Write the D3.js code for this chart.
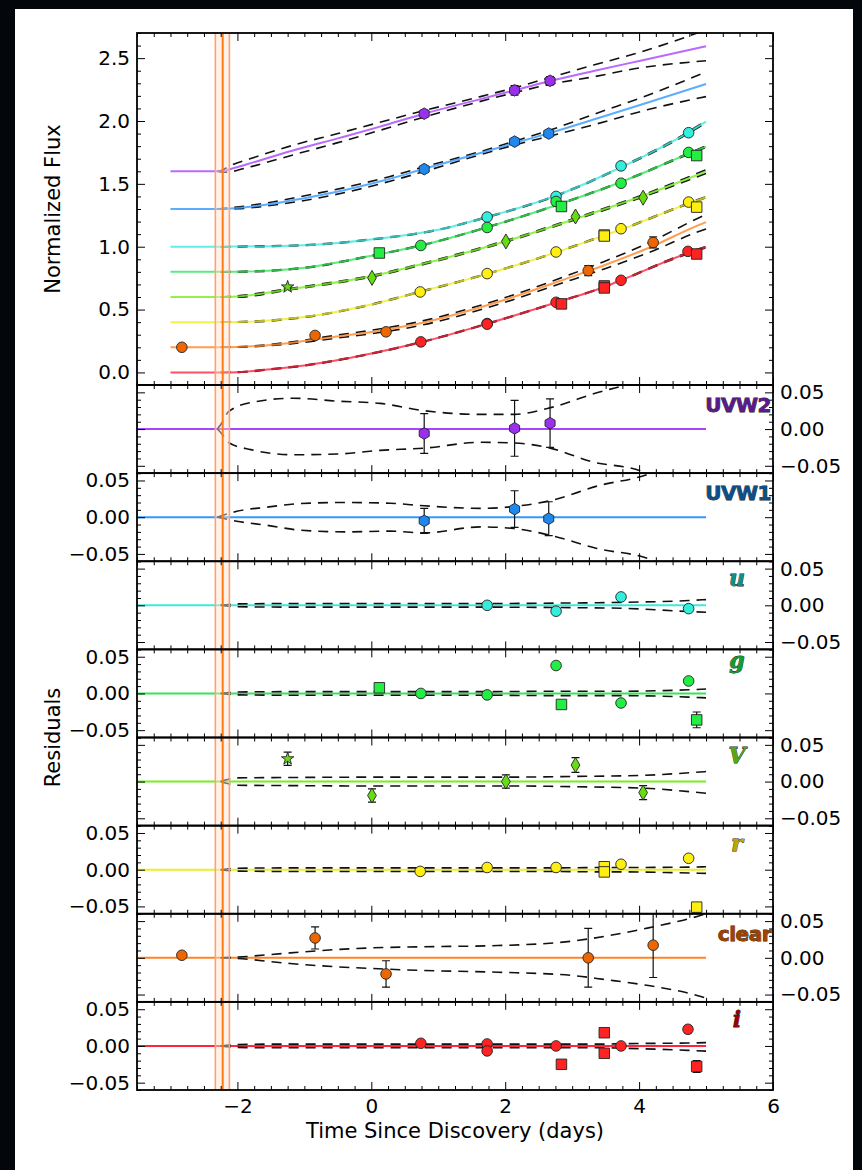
<!DOCTYPE html>
<html>
<head>
<meta charset="utf-8">
<script src="https://cdn.jsdelivr.net/npm/d3@7"></script>
<style>
  html, body { margin: 0; padding: 0; background: #03060a; }
  svg { display: block; }
</style>
</head>
<body>
<svg id="chart" width="862" height="1170"></svg>
<script>
// ---- bands (top to bottom) ----
const bandNames   = ["UVW2", "UVW1", "u", "g", "V", "r", "clear", "i"];
const lineColors  = ["#a744ff", "#3399ff", "#3fe8dc", "#33e655", "#77ee22", "#eeee22", "#ff8426", "#ff2440"];
const markColors  = ["#9a30ee", "#1f88ee", "#33eedd", "#22ee44", "#66dd11", "#ffee11", "#ee6600", "#ff2222"];
const labelColors = ["#5a1a8c", "#0b4f8a", "#0f8f86", "#129a33", "#55a811", "#b8a800", "#9a4400", "#990000"];
const labelScript = [false, false, true, true, true, true, false, true];
const tickSide    = ["right", "left", "right", "left", "right", "left", "right", "left"];

// explosion epoch and its uncertainty (days)
const explosionTimes = [-2.33, -2.22, -2.12];
const modelStart = -3.0;
const residStart = -3.5;

// model rows: [time, normalized flux, envelope low, envelope high]
const modelUVW2 = [
  [-2.30, 1.600, 0.000, 0.000], [-2.22, 1.600, -0.008, 0.010], [-2.14, 1.612, -0.018, 0.023],
  [-1.80, 1.665, -0.028, 0.036], [-1.17, 1.765, -0.035, 0.042], [-0.50, 1.862, -0.034, 0.038],
  [0.13, 1.955, -0.029, 0.035], [0.79, 2.058, -0.026, 0.025], [1.63, 2.174, -0.018, 0.020],
  [2.13, 2.243, -0.019, 0.020], [2.63, 2.312, -0.025, 0.028], [3.32, 2.397, -0.045, 0.048],
  [4.02, 2.480, -0.057, 0.068], [5.00, 2.595, -0.116, 0.130]
];
const modelUVW1 = [
  [-2.30, 1.300, 0.000, 0.000], [-2.01, 1.307, -0.0055, 0.008], [-1.56, 1.335, -0.011, 0.0136],
  [-1.06, 1.380, -0.0177, 0.0186], [-0.36, 1.455, -0.020, 0.020], [0.28, 1.540, -0.019, 0.019],
  [0.79, 1.620, -0.0214, 0.0155], [1.63, 1.745, -0.0132, 0.012], [2.13, 1.823, -0.0154, 0.0146],
  [2.73, 1.915, -0.026, 0.0237], [3.37, 2.020, -0.0427, 0.0423], [4.12, 2.145, -0.056, 0.058],
  [5.00, 2.294, -0.100, 0.097]
];
const modelU = [
  [-2.25, 1.000, 0, 0], [-2.00, 1.001, -0.002, 0.002], [-1.00, 1.012, -0.0025, 0.0025],
  [0.00, 1.058, -0.0025, 0.0025], [1.00, 1.135, -0.0025, 0.0025], [1.73, 1.236, -0.0025, 0.0025],
  [2.76, 1.406, -0.003, 0.003], [3.73, 1.632, -0.004, 0.004], [4.74, 1.910, -0.0085, 0.0065],
  [5.00, 1.995, -0.0095, 0.0078]
];
const modelG = [
  [-2.25, 0.800, 0, 0], [-2.00, 0.801, -0.002, 0.002], [-1.00, 0.832, -0.0025, 0.0025],
  [0.00, 0.928, -0.0025, 0.0025], [0.74, 1.010, -0.0025, 0.0025], [1.73, 1.155, -0.0025, 0.0025],
  [2.76, 1.330, -0.003, 0.003], [3.73, 1.515, -0.003, 0.003], [4.74, 1.740, -0.005, 0.005],
  [5.00, 1.796, -0.006, 0.006]
];
const modelV = [
  [-2.25, 0.600, 0, 0], [-2.00, 0.604, -0.005, 0.005], [-1.25, 0.660, -0.0055, 0.0055],
  [0.00, 0.765, -0.006, 0.006], [1.00, 0.895, -0.006, 0.006], [2.00, 1.042, -0.006, 0.006],
  [3.05, 1.222, -0.007, 0.007], [4.06, 1.405, -0.009, 0.0085], [5.00, 1.598, -0.016, 0.0136]
];
const modelR = [
  [-2.25, 0.400, 0, 0], [-2.00, 0.401, -0.002, 0.002], [-1.00, 0.440, -0.0025, 0.0025],
  [0.00, 0.540, -0.0025, 0.0025], [0.73, 0.642, -0.0025, 0.0025], [1.73, 0.784, -0.0025, 0.0025],
  [2.76, 0.955, -0.0025, 0.0025], [3.48, 1.090, -0.003, 0.003], [3.73, 1.137, -0.003, 0.003],
  [4.74, 1.345, -0.0045, 0.0035], [5.00, 1.394, -0.005, 0.004]
];
const modelClear = [
  [-2.25, 0.200, 0, 0], [-2.00, 0.202, -0.001, 0.001], [-1.21, 0.235, -0.0078, 0.0067],
  [-0.56, 0.282, -0.012, 0.011], [0.00, 0.322, -0.0145, 0.0135], [0.68, 0.385, -0.017, 0.0149],
  [1.89, 0.560, -0.0196, 0.0167], [2.99, 0.760, -0.024, 0.0226], [3.49, 0.855, -0.0296, 0.0293],
  [4.14, 0.990, -0.0378, 0.0408], [4.88, 1.170, -0.0516, 0.0567], [5.00, 1.196, -0.055, 0.060]
];
const modelI = [
  [-2.25, 0.000, 0, 0], [-2.00, 0.002, -0.002, 0.002], [-1.50, 0.025, -0.0025, 0.0025],
  [-1.00, 0.055, -0.0025, 0.0025], [0.00, 0.150, -0.0025, 0.0025], [0.74, 0.240, -0.0025, 0.0025],
  [1.73, 0.387, -0.0025, 0.0025], [2.76, 0.556, -0.0025, 0.0025], [3.48, 0.680, -0.0025, 0.0025],
  [3.73, 0.733, -0.003, 0.003], [4.73, 0.950, -0.006, 0.004], [5.00, 0.998, -0.007, 0.0045]
];

// observations: [time, normalized flux, residual, error, marker]
const obsUVW2 = [[0.79, 2.058, -0.006, 0.027, "h"], [2.14, 2.244, 0.001, 0.038, "h"], [2.67, 2.320, 0.008, 0.033, "h"]];
const obsUVW1 = [[0.79, 1.617, -0.005, 0.017, "h"], [2.14, 1.836, 0.011, 0.025, "h"], [2.65, 1.900, -0.002, 0.023, "h"]];
const obsU = [[1.73, 1.236, 0.000, 0.002, "o"], [2.76, 1.400, -0.008, 0.002, "o"], [3.73, 1.643, 0.0114, 0.002, "o"], [4.74, 1.907, -0.0045, 0.002, "o"]];
const obsG = [
  [0.12, 0.950, 0.0077, 0.002, "s"], [0.74, 1.010, 0.000, 0.002, "o"], [1.73, 1.153, -0.002, 0.002, "o"],
  [2.76, 1.360, 0.038, 0.003, "o"], [2.84, 1.320, -0.015, 0.003, "s"], [3.73, 1.505, -0.013, 0.003, "o"],
  [4.74, 1.750, 0.017, 0.003, "o"], [4.86, 1.725, -0.036, 0.0107, "s"]
];
const obsV = [
  [-1.25, 0.680, 0.031, 0.009, "*"], [0.01, 0.752, -0.019, 0.009, "d"], [2.01, 1.042, 0.000, 0.009, "d"],
  [3.05, 1.240, 0.0225, 0.010, "d"], [4.06, 1.390, -0.015, 0.0095, "d"]
];
const obsR = [
  [0.73, 0.640, -0.0023, 0.002, "o"], [1.73, 0.786, 0.003, 0.002, "o"], [2.76, 0.958, 0.003, 0.002, "o"],
  [3.48, 1.093, 0.004, 0.002, "s"], [3.48, 1.085, -0.003, 0.002, "s"], [3.73, 1.143, 0.0074, 0.002, "o"],
  [4.74, 1.355, 0.0155, 0.002, "o"], [4.86, 1.315, -0.051, 0.004, "s"]
];
const obsClear = [
  [-2.83, 0.200, 0.0035, 0.002, "o"], [-0.84, 0.294, 0.027, 0.015, "o"], [0.22, 0.323, -0.022, 0.018, "o"],
  [3.24, 0.810, 0.000, 0.040, "o"], [4.21, 1.034, 0.0172, 0.044, "o"]
];
const obsI = [
  [0.74, 0.243, 0.0036, 0.002, "o"], [1.73, 0.389, 0.0027, 0.002, "o"], [1.73, 0.384, -0.0068, 0.002, "o"],
  [2.76, 0.558, 0.000, 0.002, "o"], [2.84, 0.545, -0.025, 0.002, "s"], [3.48, 0.688, 0.018, 0.005, "s"],
  [3.48, 0.672, -0.010, 0.004, "s"], [3.73, 0.733, 0.000, 0.002, "o"], [4.73, 0.963, 0.0227, 0.005, "o"],
  [4.86, 0.942, -0.028, 0.008, "s"]
];

const models = [modelUVW2, modelUVW1, modelU, modelG, modelV, modelR, modelClear, modelI];
const observations = [obsUVW2, obsUVW1, obsU, obsG, obsV, obsR, obsClear, obsI];

// ---- axes ticks ----
const xMajor = [-2, 0, 2, 4, 6];
const mainYMajor = [0.0, 0.5, 1.0, 1.5, 2.0, 2.5];
const residYMajor = [-0.05, 0.00, 0.05];
const xMinor = d3.range(-3.5, 6.001, 0.25).filter(v => !xMajor.some(m => Math.abs(m - v) < 1e-6));
const mainYMinor = d3.range(-0.1, 2.701, 0.1).filter(v => !mainYMajor.some(m => Math.abs(m - v) < 1e-6));
const residYMinor = d3.range(-0.06, 0.0601, 0.01).filter(v => !residYMajor.some(m => Math.abs(m - v) < 1e-6));

// ---- layout ----
const W = 862, H = 1170;
const plotL = 137, plotR = 773, mainTop = 33, mainBottom = 385, residBottom = 1090;
const panelH = (residBottom - mainBottom) / bandNames.length;
const FONT = "DejaVu Sans";
const DASH = "10,7";

const svg = d3.select("#chart");
svg.append("rect").attr("width", W).attr("height", H).attr("fill", "#03060a");
svg.append("rect").attr("x", 15).attr("y", 9).attr("width", 838).attr("height", H - 9).attr("fill", "#ffffff");

const x = d3.scaleLinear().domain([-3.5, 6]).range([plotL, plotR]);
const yMain = d3.scaleLinear().domain([-0.1, 2.7]).range([mainBottom, mainTop]);
const residScales = bandNames.map((_, i) => {
  const top = mainBottom + i * panelH;
  return d3.scaleLinear().domain([-0.06, 0.06]).range([top + panelH, top]);
});

const defs = svg.append("defs");
function clipFor(id, top, bottom) {
  defs.append("clipPath").attr("id", id).append("rect")
    .attr("x", plotL).attr("y", top).attr("width", plotR - plotL).attr("height", bottom - top);
  return `url(#${id})`;
}

// marker glyphs centred on the origin
function markerPath(shape) {
  if (shape === "o") return d3.symbol(d3.symbolCircle, Math.PI * 5.3 * 5.3)();
  if (shape === "s") return d3.symbol(d3.symbolSquare, 10.5 * 10.5)();
  if (shape === "*") return d3.symbol(d3.symbolStar, 48)();
  if (shape === "d") {
    const p = d3.path();
    p.moveTo(0, -7.5); p.lineTo(4.4, 0); p.lineTo(0, 7.5); p.lineTo(-4.4, 0); p.closePath();
    return p.toString();
  }
  // hexagon with a vertex on top
  const p = d3.path(), r = 5.8;
  d3.range(6).forEach(k => {
    const a = -Math.PI / 2 + k * Math.PI / 3;
    if (k === 0) p.moveTo(r * Math.cos(a), r * Math.sin(a)); else p.lineTo(r * Math.cos(a), r * Math.sin(a));
  });
  p.closePath();
  return p.toString();
}

function drawErrorBars(g, data, y, valueIdx) {
  const eb = g.append("g").attr("stroke", "#111").attr("stroke-width", 1.2).attr("fill", "none");
  data.forEach(d => {
    const cx = x(d[0]), y0 = y(d[valueIdx] - d[3]), y1 = y(d[valueIdx] + d[3]);
    eb.append("line").attr("x1", cx).attr("x2", cx).attr("y1", y0).attr("y2", y1);
    eb.append("line").attr("x1", cx - 4).attr("x2", cx + 4).attr("y1", y0).attr("y2", y0);
    eb.append("line").attr("x1", cx - 4).attr("x2", cx + 4).attr("y1", y1).attr("y2", y1);
  });
}

function drawMarkers(g, data, y, valueIdx, color) {
  g.append("g").selectAll("path").data(data).join("path")
    .attr("d", d => markerPath(d[4]))
    .attr("transform", d => `translate(${x(d[0])},${y(d[valueIdx])})`)
    .attr("fill", color).attr("stroke", "#222").attr("stroke-width", 0.9);
}

const smooth = d3.curveMonotoneX;

// ---- main light-curve panel ----
const mainG = svg.append("g").attr("clip-path", clipFor("clip-main", mainTop, mainBottom));
bandNames.forEach((name, i) => {
  const m = models[i];
  const full = [[modelStart, m[0][1]], ...m.map(r => [r[0], r[1]])];
  const line = d3.line().x(d => x(d[0])).y(d => yMain(d[1])).curve(smooth);
  // envelope
  [2, 3].forEach(k => {
    mainG.append("path").datum(m).attr("fill", "none")
      .attr("stroke", "#111").attr("stroke-width", 1.6).attr("stroke-dasharray", DASH)
      .attr("d", d3.line().x(d => x(d[0])).y(d => yMain(d[1] + d[k])).curve(smooth));
  });
  mainG.append("path").datum(full).attr("fill", "none")
    .attr("stroke", lineColors[i]).attr("stroke-width", 2).attr("stroke-opacity", 0.8)
    .attr("d", line);
});
bandNames.forEach((name, i) => {
  drawErrorBars(mainG, observations[i], yMain, 1);
  drawMarkers(mainG, observations[i], yMain, 1, markColors[i]);
});

// ---- residual panels ----
bandNames.forEach((name, i) => {
  const y = residScales[i];
  const top = y.range()[1], bottom = y.range()[0];
  const g = svg.append("g").attr("clip-path", clipFor("clip-r" + i, top, bottom));
  const m = models[i];
  g.append("path").datum([[residStart, 0], [5.0, 0]]).attr("fill", "none")
    .attr("stroke", lineColors[i]).attr("stroke-width", 2)
    .attr("d", d3.line().x(d => x(d[0])).y(d => y(d[1])));
  [2, 3].forEach(k => {
    g.append("path").datum(m).attr("fill", "none")
      .attr("stroke", "#111").attr("stroke-width", 1.6).attr("stroke-dasharray", DASH)
      .attr("d", d3.line().x(d => x(d[0])).y(d => y(d[k])).curve(smooth));
  });
  drawErrorBars(g, observations[i], y, 2);
  drawMarkers(g, observations[i], y, 2, markColors[i]);
});

// ---- explosion epoch band ----
const expG = svg.append("g");
expG.append("rect")
  .attr("x", x(explosionTimes[0])).attr("y", mainTop)
  .attr("width", x(explosionTimes[2]) - x(explosionTimes[0])).attr("height", residBottom - mainTop)
  .attr("fill", "#ffe3d0").attr("opacity", 0.45);
explosionTimes.forEach((t, k) => {
  expG.append("line").attr("x1", x(t)).attr("x2", x(t)).attr("y1", mainTop).attr("y2", residBottom)
    .attr("stroke", k === 1 ? "#ff7a10" : "#ffa273").attr("stroke-width", k === 1 ? 2 : 1.6);
});

// ---- frames and ticks ----
function styleAxis(sel) {
  sel.select(".domain").remove();
  sel.attr("font-family", FONT).attr("font-size", 20);
  sel.selectAll("line").attr("stroke", "#000").attr("stroke-width", 1);
  sel.selectAll("text").attr("fill", "#000");
}

function drawFrame(y, yMajor, yMinor, fmt, labelLeft, labelRight, xLabels) {
  const top = y.range()[1], bottom = y.range()[0];
  const g = svg.append("g");
  [[d3.axisTop, top], [d3.axisBottom, bottom]].forEach(([gen, yy]) => {
    g.append("g").attr("transform", `translate(0,${yy})`)
      .call(gen(x).tickValues(xMinor).tickSize(-4).tickFormat("")).call(styleAxis);
    const showLabels = xLabels && gen === d3.axisBottom;
    g.append("g").attr("transform", `translate(0,${yy})`)
      .call(gen(x).tickValues(xMajor).tickSize(-8).tickPadding(9)
        .tickFormat(showLabels ? d3.format("d") : "")).call(styleAxis);
  });
  [[d3.axisLeft, plotL, labelLeft], [d3.axisRight, plotR, labelRight]].forEach(([gen, xx, lab]) => {
    g.append("g").attr("transform", `translate(${xx},0)`)
      .call(gen(y).tickValues(yMinor).tickSize(-4).tickFormat("")).call(styleAxis);
    g.append("g").attr("transform", `translate(${xx},0)`)
      .call(gen(y).tickValues(yMajor).tickSize(-8).tickPadding(7).tickFormat(lab ? fmt : "")).call(styleAxis);
  });
  g.append("rect").attr("x", plotL).attr("y", top).attr("width", plotR - plotL).attr("height", bottom - top)
    .attr("fill", "none").attr("stroke", "#000").attr("stroke-width", 1.8);
}

drawFrame(yMain, mainYMajor, mainYMinor, d3.format(".1f"), true, false, false);
bandNames.forEach((name, i) => {
  drawFrame(residScales[i], residYMajor, residYMinor, d3.format(".2f"),
    tickSide[i] === "left", tickSide[i] === "right", i === bandNames.length - 1);
});

// ---- band labels ----
bandNames.forEach((name, i) => {
  const top = residScales[i].range()[1];
  const t = svg.append("text").text(name)
    .attr("fill", labelColors[i]).attr("stroke", "#1a1a1a").attr("stroke-width", 0.8)
    .attr("paint-order", "stroke");
  if (labelScript[i]) {
    t.attr("x", 737).attr("y", top + (name === "g" ? 19 : 25)).attr("text-anchor", "middle")
      .attr("font-family", "DejaVu Serif").attr("font-style", "italic").attr("font-weight", "bold")
      .attr("font-size", 22);
  } else {
    t.attr("x", 771).attr("y", top + 27).attr("text-anchor", "end")
      .attr("font-family", FONT).attr("font-weight", "bold").attr("font-size", 20)
      .attr("letter-spacing", -0.5);
  }
});

// ---- axis titles ----
svg.append("text").text("Normalized Flux")
  .attr("transform", `translate(60,${(mainTop + mainBottom) / 2}) rotate(-90)`)
  .attr("text-anchor", "middle").attr("font-family", FONT).attr("font-size", 21).attr("fill", "#000");
svg.append("text").text("Residuals")
  .attr("transform", `translate(60,${(mainBottom + residBottom) / 2}) rotate(-90)`)
  .attr("text-anchor", "middle").attr("font-family", FONT).attr("font-size", 21).attr("fill", "#000");
svg.append("text").text("Time Since Discovery (days)")
  .attr("x", (plotL + plotR) / 2).attr("y", 1138)
  .attr("text-anchor", "middle").attr("font-family", FONT).attr("font-size", 21).attr("fill", "#000");
</script>
</body>
</html>
